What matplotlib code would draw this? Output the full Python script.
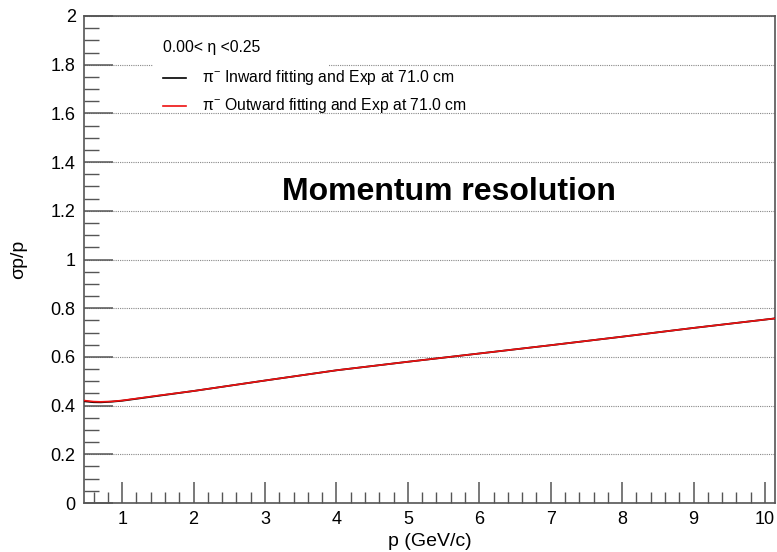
import numpy as np
import matplotlib
matplotlib.use("Agg")
import matplotlib.pyplot as plt
from matplotlib.ticker import MultipleLocator
from matplotlib.patches import Rectangle

plt.rcParams['font.family'] = ['Liberation Sans', 'DejaVu Sans']
plt.rcParams['mathtext.fontset'] = 'custom'
plt.rcParams['mathtext.rm'] = 'Liberation Sans'
plt.rcParams['mathtext.it'] = 'Liberation Sans'

# momentum points (GeV/c) and relative resolution sigma_p/p
p_vals = [0.46, 0.6, 0.7, 0.85, 1.0, 1.5, 2.0, 3.0, 4.0, 5.0, 6.0, 7.0, 8.0, 9.0, 10.14]
res_inward = [0.418, 0.414, 0.4135, 0.416, 0.420, 0.440, 0.460, 0.503, 0.545, 0.580, 0.614, 0.648, 0.683, 0.719, 0.758]
res_outward = [0.421, 0.4165, 0.4155, 0.417, 0.421, 0.441, 0.460, 0.503, 0.545, 0.580, 0.614, 0.648, 0.683, 0.719, 0.758]

eta_label = "0.00< η <0.25"
lab_in = "π$^{-}$ Inward fitting and Exp at 71.0 cm"
lab_out = "π$^{-}$ Outward fitting and Exp at 71.0 cm"

fig = plt.figure(figsize=(7.77, 5.52), dpi=100)
ax = fig.add_axes([84/777, 49/552, 691/777, 487/552])

ax.plot(p_vals, res_inward, color='black', lw=1.3, zorder=3)
ax.plot(p_vals, res_outward, color='#ee1111', lw=1.2, zorder=4)

ax.set_xlim(0.466, 10.14)
ax.set_ylim(0, 2)
ax.xaxis.set_major_locator(MultipleLocator(1))
ax.xaxis.set_minor_locator(MultipleLocator(0.2))
ax.yaxis.set_minor_locator(MultipleLocator(0.05))
ax.set_yticks(np.arange(0, 2.01, 0.2))
ax.set_yticklabels(['0', '0.2', '0.4', '0.6', '0.8', '1', '1.2', '1.4', '1.6', '1.8', '2'])

frame_c = '#555555'
for s in ax.spines.values():
    s.set_color(frame_c)
    s.set_linewidth(1.2)
ax.tick_params(axis='both', which='both', direction='in', colors=frame_c, labelcolor='black', labelsize=13)
ax.tick_params(axis='y', which='major', length=21, width=1.1, pad=6)
ax.tick_params(axis='y', which='minor', length=11, width=1.0)
ax.tick_params(axis='x', which='major', length=15, width=1.1, pad=6)
ax.tick_params(axis='x', which='minor', length=8, width=1.0)

ax.yaxis.grid(True, which='major', linestyle=(0, (1, 1)), color='#888888', lw=0.8)
ax.set_axisbelow(True)

ax.set_xlabel('p (GeV/c)', fontsize=14, labelpad=3)
ax.set_ylabel('σp/p', fontsize=14, labelpad=17)

# header box hides the grid behind the eta range
ax.add_patch(Rectangle((0.1, 0.895), 0.255, 0.08, transform=ax.transAxes,
                       facecolor='white', edgecolor='none', zorder=2))
ax.text(0.1143, 0.936, eta_label, transform=ax.transAxes, fontsize=11.3,
        va='center', ha='left', zorder=5)
ax.plot([0.1143, 0.1476], [0.8727, 0.8727], transform=ax.transAxes,
        color='black', lw=1.2, clip_on=False, zorder=5)
ax.plot([0.1143, 0.1476], [0.8152, 0.8152], transform=ax.transAxes,
        color='#ee1111', lw=1.2, clip_on=False, zorder=5)
ax.text(0.1708, 0.8727, lab_in, transform=ax.transAxes, fontsize=11.3,
        va='center', ha='left', zorder=5)
ax.text(0.1708, 0.8152, lab_out, transform=ax.transAxes, fontsize=11.3,
        va='center', ha='left', zorder=5)

ax.text(0.528, 0.639, 'Momentum resolution', transform=ax.transAxes,
        fontsize=23, fontweight='bold', ha='center', va='center')

fig.savefig('out.png', dpi=100)
